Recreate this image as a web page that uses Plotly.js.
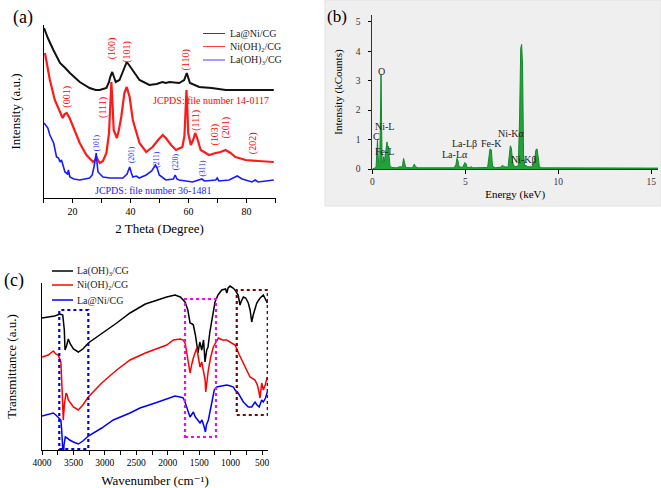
<!DOCTYPE html>
<html><head><meta charset="utf-8">
<script src="https://cdn.plot.ly/plotly-3.0.1.min.js"></script>
<style>html,body{margin:0;padding:0;background:#fff}#chart{width:661px;height:488px}</style>
</head><body><div id="chart"></div>
<script>
// ---------- (a) XRD ----------
const xrdThetaBlack = [10.2,11.5,13.4,15.7,17.5,19.1,22.5,25.9,28,29.4,31.7,32.6,33.0,33.7,34.3,34.9,36.2,37.2,37.9,38.7,39.5,40.8,43.1,46.5,49,51,52.2,53.4,56.8,58.5,59.4,60.5,63.7,68,72.8,79.7,89.4];
const xrdIntBlack   = [170,160,148,135,130,125,116,110,108,108,110,116,121,126,121,116,118,126,131,136,133,128,118,113,114,116,115,116,115,118,125,115,111,110,108,108,108];
const xrdThetaRed = [10.5,11.3,12.2,13.9,15.7,16.6,17.3,18.0,19,20.2,22.5,24.8,27.1,28.4,29.4,30.5,31.7,32.6,33.1,33.4,33.8,34.2,35.3,36.0,36.8,37.9,38.7,39.7,40.8,43.1,45.4,47.6,49.5,51.1,52.2,54,55.7,57.9,58.6,58.9,59.3,59.6,59.9,60.8,61.6,62.3,63,64.2,67.1,69.4,71,72.8,74.5,76.2,79.7,84,89.4];
const xrdIntRed   = [145,132,118,98,85,80,84,85,80,71,55,43,36,40,35,37,45,65,95,116,95,68,60,68,81,105,111,101,78,55,46,51,58,63,60,53,48,51,62,78,108,90,65,53,58,65,60,48,43,45,46,48,45,41,38,37,36];
const xrdThetaBlue = [10.2,11.5,12.2,13.5,14.5,15.2,15.7,16.2,17.4,18.3,18.6,18.9,19.1,20.5,22.5,25.9,26.8,27.4,27.8,28.2,28.5,28.8,30.5,33,35,37.4,38.8,39.7,40.3,40.8,42,43,45.4,47.3,48.6,49.2,49.9,52.2,54.8,55.4,56,56.8,61.4,63.8,64.6,65.5,69.4,69.9,70.5,74,76.8,78.5,81.9,83,84,89.4];
const xrdIntBlue   = [75,70,63,55,41,40,36,38,26,24,28,22,21,19,18,20,23,31,38,45,34,26,21,20,20,20,24,31,25,21,22,20,23,27,33,30,23,18,19,23,19,18,16,18,19,17,18,20,17,18,22,19,16,18,16,18];
const xrdLegendNames = ['La@Ni/CG','Ni(OH)₂/CG','La(OH)₃/CG'];
const xrdRedLabels = ['(001)','(111)','(100)','(101)','(110)','(111)','(103)','(201)','(202)'];
const xrdRedLabelX = [18.0,30.5,33.7,38.7,59.3,62.5,69.0,72.8,82.3];
const xrdRedLabelY = [101,91,150,146,138,78,63,70,55];
const xrdBlueLabels = ['(101)','(201)','(211)','(220)','(311)'];
const xrdBlueLabelX = [28.2,40.2,48.7,55.4,64.8];
const xrdBlueLabelY = [55,43,38,36,30];

// ---------- (b) EDS ----------
const edsEnergy = [0.00,0.1,0.2,0.25,0.28,0.31,0.35,0.40,0.44,0.47,0.50,0.53,0.57,0.61,0.65,0.68,0.72,0.76,0.79,0.82,0.86,0.9,0.95,1.05,1.3,1.5,1.6,1.63,1.68,1.74,1.8,2.1,2.2,2.26,2.32,2.45,4.4,4.5,4.55,4.6,4.66,4.85,4.93,4.98,5.04,5.1,5.3,5.34,5.4,6.2,6.27,6.33,6.4,6.46,6.6,6.9,7.0,7.08,7.3,7.35,7.42,7.48,7.55,7.65,7.85,7.92,7.98,8.03,8.08,8.13,8.2,8.26,8.32,8.6,8.72,8.8,8.86,8.92,8.98,9.1,15.4];
const edsCounts = [0,0.03,0.05,0.6,1.0,0.5,0.08,0.1,1.5,3.22,1.5,0.2,0.25,0.42,0.25,0.45,0.68,0.75,0.92,0.7,0.78,0.45,0.12,0.05,0.04,0.08,0.06,0.15,0.36,0.2,0.05,0.04,0.08,0.17,0.08,0.04,0.04,0.15,0.36,0.3,0.08,0.05,0.15,0.22,0.18,0.05,0.06,0.08,0.04,0.05,0.4,0.68,0.65,0.1,0.04,0.06,0.13,0.08,0.06,0.35,0.79,0.7,0.2,0.08,0.1,1.8,4.1,4.23,3.5,0.5,0.1,0.13,0.08,0.07,0.3,0.66,0.68,0.4,0.08,0.04,0.03];
const edsLabels = ['O','Ni-L','C','Fe-L','La-Lβ','Fe-K','La-Lα','Ni-Kα','Ni-Kβ'];
const edsLabelX = [0.47,0.68,0.2,0.68,4.98,6.42,4.46,7.49,8.15];
const edsLabelY = [3.30,1.46,1.10,0.61,0.85,0.85,0.48,1.21,0.33];

// ---------- (c) FTIR ----------
const ftirWnBlack = [4000,3900,3800,3714,3670,3645,3634,3610,3582,3550,3500,3422,3350,3263,3077,2812,2600,2356,2016,1884,1800,1725,1680,1645,1610,1593,1560,1518,1490,1459,1430,1407,1380,1359,1330,1300,1248,1200,1141,1080,1060,1040,1009,960,929,880,860,850,835,820,797,760,718,690,664,640,610,584,530,479,440,416];
const ftirTrBlack = [132,133,134,136,135,120,100,104,111,106,101,98,101,107,115,127,137,146,153,155,153,148,140,127,126,125,115,97,108,100,110,88,100,103,118,130,148,155,160,161,157,162,164,162,160,155,150,145,148,150,153,152,147,140,128,135,142,147,152,155,150,147];
const ftirWnRed = [4000,3900,3820,3780,3741,3700,3687,3670,3661,3645,3618,3600,3582,3500,3422,3350,3263,3050,2812,2600,2356,2016,1911,1800,1752,1720,1698,1645,1620,1593,1539,1486,1459,1434,1405,1396,1385,1354,1320,1275,1195,1130,1061,990,929,860,797,740,691,611,575,555,532,505,490,479,450,416];
const ftirTrRed = [93,95,99,96,95,88,70,50,30,45,57,55,50,43,40,45,53,67,80,90,97,105,110,111,110,106,98,77,85,92,102,83,88,80,70,58,65,80,92,103,112,110,110,107,105,95,87,80,73,70,65,60,52,67,62,60,65,73];
const ftirWnBlue = [4000,3900,3820,3780,3741,3700,3687,3670,3661,3650,3630,3600,3560,3500,3422,3350,3263,3050,2866,2600,2441,2200,1963,1884,1800,1752,1720,1698,1645,1593,1560,1486,1455,1420,1400,1385,1354,1300,1260,1221,1150,1100,1061,1000,955,929,880,797,718,664,611,580,545,505,479,445,416];
const ftirTrBlue = [34,36,37,35,33,30,20,5,-10,5,13,12,10,8,6,9,14,22,30,37,42,47,52,54,53,52,47,43,33,38,33,27,30,23,18,25,30,47,60,63,64,64,65,64,63,60,57,48,43,43,48,45,43,50,48,52,58];
const ftirLegendNames = ['La(OH)₃/CG','Ni(OH)₂/CG','La@Ni/CG'];
const ftirBoxWnFrom = [3725,1725,902];
const ftirBoxWnTo   = [3263,1232,409];
const ftirBoxLow    = [1,13,35];
const ftirBoxHigh   = [140,151,160];
const ftirBoxColor  = ['#0000ee','#ff00ff','#800000'];

// ---------- build ----------
const W = 661, H = 488;
const px = v => v / W, py = v => 1 - v / H;
const F = 'Liberation Serif, DejaVu Serif, Times New Roman, serif';

const traces = [
  {x: xrdThetaBlack, y: xrdIntBlack, xaxis:'x', yaxis:'y', mode:'lines', line:{color:'#111', width:2}, name:xrdLegendNames[0]},
  {x: xrdThetaRed, y: xrdIntRed, xaxis:'x', yaxis:'y', mode:'lines', line:{color:'#ff1a1a', width:2.2}, name:xrdLegendNames[1]},
  {x: xrdThetaBlue, y: xrdIntBlue, xaxis:'x', yaxis:'y', mode:'lines', line:{color:'#1a1aff', width:1.6}, name:xrdLegendNames[2]},
  {x: edsEnergy, y: edsCounts, xaxis:'x2', yaxis:'y2', mode:'lines', fill:'tozeroy', fillcolor:'#22a33a', line:{color:'#12882c', width:1}, name:'EDS'},
  {x: ftirWnBlack, y: ftirTrBlack, xaxis:'x3', yaxis:'y3', mode:'lines', line:{color:'#000', width:1.5}, name:ftirLegendNames[0]},
  {x: ftirWnRed, y: ftirTrRed, xaxis:'x3', yaxis:'y3', mode:'lines', line:{color:'#ff0000', width:1.5}, name:ftirLegendNames[1]},
  {x: ftirWnBlue, y: ftirTrBlue, xaxis:'x3', yaxis:'y3', mode:'lines', line:{color:'#0000ff', width:1.5}, name:ftirLegendNames[2]}
];

const shapes = [
  {type:'rect', xref:'paper', yref:'paper', x0:px(325), x1:1, y0:py(206), y1:1, fillcolor:'#efefef', line:{color:'#e2e2e2', width:1}, layer:'below'}
];
ftirBoxWnFrom.forEach((w,i) => shapes.push({type:'rect', xref:'x3', yref:'y3', x0:w, x1:ftirBoxWnTo[i], y0:ftirBoxLow[i], y1:ftirBoxHigh[i], line:{color:ftirBoxColor[i], width:2.2, dash:'dot'}, fillcolor:'rgba(0,0,0,0)'}));

const legA = {x0:203, x1:225, tx:228, ys:[33.5,46.5,60], colors:['#444','#ff4040','#4040ff']};
legA.ys.forEach((y,i) => shapes.push({type:'line', xref:'paper', yref:'paper', x0:px(legA.x0), x1:px(legA.x1), y0:py(y), y1:py(y), line:{color:legA.colors[i], width:1}}));
const legC = {x0:52, x1:73, tx:75, ys:[271,285,300], colors:['#000','#ff0000','#0000ff']};
legC.ys.forEach((y,i) => shapes.push({type:'line', xref:'paper', yref:'paper', x0:px(legC.x0), x1:px(legC.x1), y0:py(y), y1:py(y), line:{color:legC.colors[i], width:1.5}}));

const ann = [];
ann.push({text:'(a)', xref:'paper', yref:'paper', x:px(23), y:py(17), showarrow:false, font:{size:18, family:F}, xanchor:'center', yanchor:'middle'});
ann.push({text:'(b)', xref:'paper', yref:'paper', x:px(337), y:py(16), showarrow:false, font:{size:17, family:F}, xanchor:'center', yanchor:'middle'});
ann.push({text:'(c)', xref:'paper', yref:'paper', x:px(14), y:py(280), showarrow:false, font:{size:18, family:F}, xanchor:'center', yanchor:'middle'});
xrdLegendNames.forEach((t,i) => ann.push({text:t, xref:'paper', yref:'paper', x:px(legA.tx), y:py(legA.ys[i]), showarrow:false, xanchor:'left', yanchor:'middle', font:{size:10, family:F, color:'#222'}}));
ftirLegendNames.forEach((t,i) => ann.push({text:t, xref:'paper', yref:'paper', x:px(legC.tx), y:py(legC.ys[i]), showarrow:false, xanchor:'left', yanchor:'middle', font:{size:10, family:F, color:'#222'}}));
xrdRedLabels.forEach((t,i) => ann.push({text:t, xref:'x', yref:'y', x:xrdRedLabelX[i], y:xrdRedLabelY[i], textangle:-90, showarrow:false, font:{size:10, family:F, color:'#ff0000'}}));
xrdBlueLabels.forEach((t,i) => ann.push({text:t, xref:'x', yref:'y', x:xrdBlueLabelX[i], y:xrdBlueLabelY[i], textangle:-90, showarrow:false, font:{size:7.5, family:F, color:'#2020ff'}}));
ann.push({text:'JCPDS: file number 14-0117', xref:'x', yref:'y', x:67.8, y:98, showarrow:false, font:{size:10, family:F, color:'#ff0000'}});
ann.push({text:'JCPDS: file number 36-1481', xref:'x', yref:'y', x:47.9, y:7.3, showarrow:false, font:{size:10, family:F, color:'#2020ff'}});
edsLabels.forEach((t,i) => ann.push({text:t, xref:'x2', yref:'y2', x:edsLabelX[i], y:edsLabelY[i], showarrow:false, font:{size:10, family:F, color:'#222'}}));

const axBase = {showgrid:false, zeroline:false, showline:true, linecolor:'#000', linewidth:1, tickcolor:'#000'};
const layout = {
  width:W, height:H, margin:{l:0,r:0,t:0,b:0}, paper_bgcolor:'#fff', plot_bgcolor:'rgba(0,0,0,0)',
  showlegend:false, font:{family:F, color:'#000'},
  xaxis: Object.assign({}, axBase, {domain:[px(43.5),px(275.5)], range:[10,90], anchor:'y', tick0:0, dtick:20, ticks:'outside', ticklen:4,
    minor:{dtick:10, tick0:0, ticks:'outside', ticklen:4, tickcolor:'#000', showgrid:false},
    tickfont:{size:10, family:F}, title:{text:'2 Theta (Degree)', font:{size:13, family:F}, standoff:7}}),
  yaxis: Object.assign({}, axBase, {domain:[py(198),py(25)], range:[0,173], anchor:'x', showticklabels:false, ticks:'', title:{text:'Intensity (a.u.)', font:{size:13, family:F}, standoff:18}}),
  xaxis2: Object.assign({}, axBase, {domain:[px(372.3),px(658)], range:[0,15.36], anchor:'y2', dtick:5, ticks:'outside', ticklen:4, linecolor:'#333', tickfont:{size:9.5, family:F, color:'#333'}, title:{text:'Energy (keV)', font:{size:11, family:F}, standoff:3}}),
  yaxis2: Object.assign({}, axBase, {domain:[py(169),py(15)], range:[0,5.23], anchor:'x2', dtick:1, ticks:'outside', ticklen:3, ticklabelstandoff:6, linecolor:'#333', tickfont:{size:9.5, family:F, color:'#333'}, title:{text:'Intensity (kCounts)', font:{size:11, family:F}, standoff:10}}),
  xaxis3: Object.assign({}, axBase, {domain:[px(42),px(268)], range:[4000,405], anchor:'y3', tick0:0, dtick:500, ticks:'outside', ticklen:4,
    minor:{dtick:250, tick0:0, ticks:'outside', ticklen:4, tickcolor:'#000', showgrid:false},
    tickfont:{size:9.5, family:F}, title:{text:'Wavenumber (cm⁻¹)', font:{size:13, family:F}, standoff:8}}),
  yaxis3: Object.assign({}, axBase, {domain:[py(450),py(283)], range:[0,167], anchor:'x3', showticklabels:false, ticks:'', title:{text:'Transmittance (a.u.)', font:{size:13, family:F}, standoff:21}}),
  shapes: shapes,
  annotations: ann
};
Plotly.newPlot('chart', traces, layout, {displayModeBar:false, staticPlot:true});
</script>
</body></html>
